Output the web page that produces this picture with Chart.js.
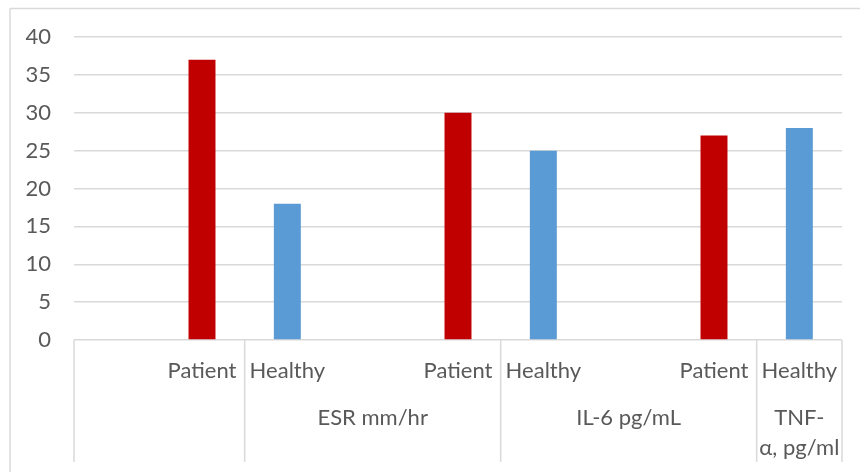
<!DOCTYPE html>
<html>
<head>
<meta charset="utf-8">
<script src="https://cdn.jsdelivr.net/npm/chart.js@4.4.1/dist/chart.umd.min.js"></script>
<style>
  html, body { margin: 0; padding: 0; background: #ffffff; }
  #wrap { position: relative; width: 860px; height: 472px; }
</style>
</head>
<body>
<div id="wrap"><canvas id="chart"></canvas></div>
<script>
// Inner category level (one slot per column, blank slots act as spacers)
const categories = ['', 'Patient', 'Healthy', '', 'Patient', 'Healthy', '', 'Patient', 'Healthy'];
// Measured values per column
const values = [null, 37, 18, null, 30, 25, null, 27, 28];
// Outer category level: text lines and the column indices each group spans
const groupLabels = [[''], ['ESR mm/hr'], ['IL-6 pg/mL'], ['TNF-', 'α, pg/ml']];
const groupStart = [0, 2, 5, 8];
const groupEnd = [1, 4, 7, 8];
// Value axis ticks
const yTicks = [0, 5, 10, 15, 20, 25, 30, 35, 40];

const seriesColors = { Patient: '#C00000', Healthy: '#5B9BD5' };
const textColor = '#595959';
const lineColor = '#d9d9d9';
const fontFamily = 'Lato, "Liberation Sans", sans-serif';
const fontSize = 22;

const multiLevelAxis = {
  id: 'multiLevelAxis',
  beforeDraw(chart) {
    const ctx = chart.ctx;
    ctx.save();
    ctx.strokeStyle = lineColor;
    ctx.lineWidth = 1.5;
    ctx.beginPath();
    ctx.moveTo(10, 8.5);
    ctx.lineTo(chart.width, 8.5);
    ctx.moveTo(10, 8.5);
    ctx.lineTo(10, chart.height);
    ctx.stroke();
    ctx.restore();
  },
  afterDraw(chart) {
    const ctx = chart.ctx;
    const x = chart.scales.x;
    const area = chart.chartArea;
    const half = (x.getPixelForValue(1) - x.getPixelForValue(0)) / 2;
    const bottom = area.bottom + 122;

    ctx.save();
    // group dividers
    ctx.strokeStyle = lineColor;
    ctx.lineWidth = 1.5;
    ctx.beginPath();
    const edges = [x.getPixelForValue(0) - half];
    groupEnd.forEach(e => edges.push(x.getPixelForValue(e) + half));
    edges.forEach(px => {
      ctx.moveTo(px, area.bottom);
      ctx.lineTo(px, bottom);
    });
    ctx.stroke();

    ctx.fillStyle = textColor;
    ctx.font = fontSize + 'px ' + fontFamily;
    ctx.textAlign = 'center';
    ctx.textBaseline = 'middle';
    // inner labels
    categories.forEach((c, i) => {
      if (c) ctx.fillText(c, x.getPixelForValue(i), area.bottom + 31);
    });
    // outer labels
    groupLabels.forEach((lines, g) => {
      const cx = (x.getPixelForValue(groupStart[g]) + x.getPixelForValue(groupEnd[g])) / 2;
      lines.forEach((t, k) => {
        if (t) ctx.fillText(t, cx, area.bottom + 78 + k * 30);
      });
    });
    ctx.restore();
  }
};

new Chart(document.getElementById('chart'), {
  type: 'bar',
  data: {
    labels: categories,
    datasets: [{
      data: values,
      backgroundColor: categories.map(c => seriesColors[c] || 'transparent'),
      borderWidth: 0,
      barPercentage: 0.316,
      categoryPercentage: 1
    }]
  },
  options: {
    responsive: true,
    maintainAspectRatio: false,
    animation: false,
    layout: { padding: { left: 0, top: 37, right: 18, bottom: 0 } },
    plugins: { legend: { display: false }, tooltip: { enabled: false } },
    scales: {
      x: {
        grid: { display: false },
        border: { display: false },
        ticks: { display: false },
        afterFit(scale) { scale.height = 132; }
      },
      y: {
        min: 0,
        max: 40,
        afterBuildTicks(scale) { scale.ticks = yTicks.map(v => ({ value: v })); },
        ticks: {
          color: textColor,
          font: { family: fontFamily, size: fontSize },
          padding: 23
        },
        grid: { color: lineColor, lineWidth: 1.5, drawTicks: false },
        border: { display: false },
        afterFit(scale) { scale.width = 74; }
      }
    }
  },
  plugins: [multiLevelAxis]
});
</script>
</body>
</html>
